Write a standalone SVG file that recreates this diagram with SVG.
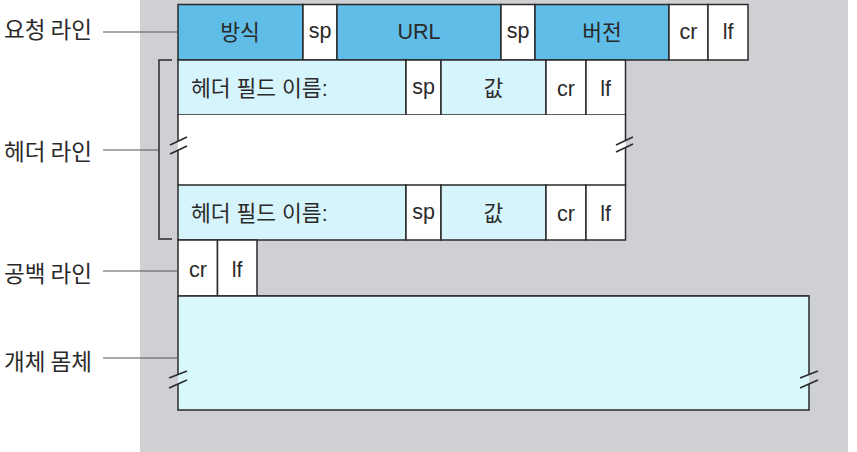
<svg xmlns="http://www.w3.org/2000/svg" width="857" height="452" viewBox="0 0 857 452">
<style>
.bg{fill:#cfd0d4}
.req{fill:#5fbde8;stroke:#2a2a2a;stroke-width:1.5}
.hdr{fill:#d6f4fb;stroke:#2a2a2a;stroke-width:1.5}
.wh{fill:#ffffff;stroke:#2a2a2a;stroke-width:1.5}
.edge{fill:none;stroke:#2a2a2a;stroke-width:1.5}
.t{font-family:"Liberation Sans","Noto Sans CJK KR",sans-serif;font-size:21.5px;fill:#2a2a2a}
.c{text-anchor:middle}
.lab{font-family:"Noto Sans CJK KR","Liberation Sans",sans-serif;font-size:22.5px;fill:#2a2a2a}
.lead{fill:none;stroke:#555;stroke-width:1.2}
.brk{fill:none;stroke:#2a2a2a;stroke-width:1.5}
</style>
<rect class="bg" x="140" y="0" width="708" height="452"/>

<g id="request-line">
<rect class="req" x="178" y="4.5" width="125" height="55.5"/>
<rect class="wh" x="303" y="4.5" width="34" height="55.5"/>
<rect class="req" x="337" y="4.5" width="164" height="55.5"/>
<rect class="wh" x="501" y="4.5" width="34" height="55.5"/>
<rect class="req" x="535" y="4.5" width="134" height="55.5"/>
<rect class="wh" x="669" y="4.5" width="39" height="55.5"/>
<rect class="wh" x="708" y="4.5" width="40" height="55.5"/>
<text class="t c" x="240" y="40">방식</text>
<text class="t c" x="320" y="38">sp</text>
<text class="t c" x="419" y="39">URL</text>
<text class="t c" x="518" y="38">sp</text>
<text class="t c" x="602" y="40">버전</text>
<text class="t c" x="688.5" y="39">cr</text>
<text class="t c" x="728" y="39">lf</text>
</g>

<g id="header-line-1">
<rect class="hdr" x="178" y="60" width="228" height="55"/>
<rect class="wh" x="406" y="60" width="35" height="55"/>
<rect class="hdr" x="441" y="60" width="105" height="55"/>
<rect class="wh" x="546" y="60" width="40" height="55"/>
<rect class="wh" x="586" y="60" width="39.5" height="55"/>
<text class="t" x="191" y="96">헤더 필드 이름:</text>
<text class="t c" x="423.5" y="94">sp</text>
<text class="t c" x="493.5" y="96">값</text>
<text class="t c" x="566" y="96">cr</text>
<text class="t c" x="605.5" y="96">lf</text>
</g>

<g id="header-gap">
<rect x="178" y="115" width="447.5" height="70" fill="#ffffff"/>
<path class="edge" d="M178 115 V141 M178 150 V185 M625.5 115 V140 M625.5 148 V185"/>
<path class="brk" d="M170 145 L187 137 M170 154 L187 146"/>
<path class="brk" d="M616 145 L633 137 M616 152 L633 144"/>
</g>

<g id="header-line-2">
<rect class="hdr" x="178" y="185" width="228" height="55"/>
<rect class="wh" x="406" y="185" width="35" height="55"/>
<rect class="hdr" x="441" y="185" width="105" height="55"/>
<rect class="wh" x="546" y="185" width="40" height="55"/>
<rect class="wh" x="586" y="185" width="39.5" height="55"/>
<text class="t" x="191" y="221">헤더 필드 이름:</text>
<text class="t c" x="423.5" y="219">sp</text>
<text class="t c" x="493.5" y="221">값</text>
<text class="t c" x="566" y="221">cr</text>
<text class="t c" x="605.5" y="221">lf</text>
</g>

<g id="blank-line">
<rect class="wh" x="178" y="240" width="39.5" height="56"/>
<rect class="wh" x="217.5" y="240" width="39.5" height="56"/>
<path class="edge" d="M257 296 H809"/>
<text class="t c" x="198" y="277">cr</text>
<text class="t c" x="237" y="277">lf</text>
</g>

<g id="entity-body">
<rect x="178" y="296" width="631" height="114" fill="#d8f8fc"/>
<path class="edge" d="M178 296 V375 M178 384 V410 H809 V384 M809 375 V296 H178"/>
<path class="brk" d="M169 378 L187 371 M169 388 L187 380"/>
<path class="brk" d="M800 378 L818 371 M800 388 L818 380"/>
</g>

<g id="connectors">
<path class="lead" d="M103 32 H178"/>
<path class="lead" d="M103 150 H159"/>
<path class="edge" d="M172 60 H159 V239 H172"/>
<path class="lead" d="M103 271 H178"/>
<path class="lead" d="M103 358 H178"/>
</g>

<g id="labels">
<text class="lab" x="4" y="38">요청 라인</text>
<text class="lab" x="4" y="160">헤더 라인</text>
<text class="lab" x="4" y="282">공백 라인</text>
<text class="lab" x="4" y="370">개체 몸체</text>
</g>
</svg>
